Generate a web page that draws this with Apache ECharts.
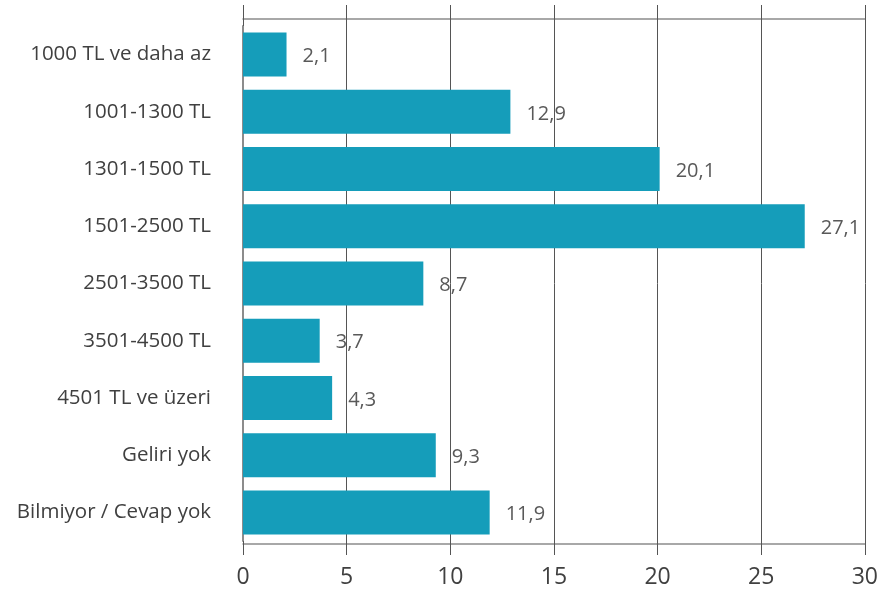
<!DOCTYPE html>
<html>
<head>
<meta charset="utf-8">
<script src="https://cdn.jsdelivr.net/npm/echarts@6/dist/echarts.min.js"></script>
<style>
  html, body { margin: 0; padding: 0; background: #fff; }
  #chart { width: 881px; height: 597px; }
</style>
</head>
<body>
<div id="chart"></div>
<script>
  // gelir grupları (yukarıdan aşağıya)
  const categories = [
    '1000 TL ve daha az',
    '1001-1300 TL',
    '1301-1500 TL',
    '1501-2500 TL',
    '2501-3500 TL',
    '3501-4500 TL',
    '4501 TL ve üzeri',
    'Geliri yok',
    'Bilmiyor / Cevap yok'
  ];
  const values = [2.1, 12.9, 20.1, 27.1, 8.7, 3.7, 4.3, 9.3, 11.9];
  const xTicks = [0, 5, 10, 15, 20, 25, 30];

  const font = '"Open Sans", sans-serif';
  const gridColor = '#555';
  const axisColor = '#8c8c8c';
  const chart = echarts.init(document.getElementById('chart'));

  // ayni olcekte ek eksenler: sadece cizgi/tick icin
  function extraAxis(pos, offset, opts) {
    return Object.assign({
      type: 'value',
      position: pos,
      offset: offset,
      min: xTicks[0],
      max: xTicks[xTicks.length - 1],
      interval: 5,
      axisLine: { show: false },
      axisTick: { show: false },
      axisLabel: { show: false },
      splitLine: { show: false }
    }, opts);
  }

  chart.setOption({
    animation: false,
    grid: { left: 243, right: 14, top: 26, bottom: 56, containLabel: false },
    xAxis: [
      {
        type: 'value',
        position: 'bottom',
        offset: 3,
        min: xTicks[0],
        max: xTicks[xTicks.length - 1],
        interval: 5,
        axisLine: { show: true, lineStyle: { color: axisColor, width: 1.5 } },
        axisTick: { show: true, length: 11, lineStyle: { color: gridColor } },
        axisLabel: { color: '#404040', fontSize: 23, fontFamily: font, margin: 22 },
        splitLine: { show: true, lineStyle: { color: gridColor, width: 1 } }
      },
      extraAxis('bottom', 3, {
        axisTick: { show: true, inside: true, length: 3, lineStyle: { color: gridColor } }
      }),
      extraAxis('top', 7, {
        axisLine: { show: true, lineStyle: { color: axisColor, width: 1.5 } },
        axisTick: { show: true, length: 14, lineStyle: { color: gridColor } }
      }),
      extraAxis('top', 7, {
        axisTick: { show: true, inside: true, length: 7, lineStyle: { color: gridColor } }
      })
    ],
    yAxis: {
      type: 'category',
      inverse: true,
      data: categories,
      axisLine: { show: true, lineStyle: { color: axisColor, width: 2 } },
      axisTick: { show: false },
      axisLabel: { color: '#404040', fontSize: 20.5, fontFamily: font, margin: 32 }
    },
    series: [
      {
        type: 'bar',
        data: values,
        barWidth: 44,
        itemStyle: { color: '#159dba' },
        label: {
          show: true,
          position: 'right',
          distance: 16,
          offset: [0, 2],
          color: '#595959',
          fontSize: 20,
          fontFamily: font,
          formatter: p => String(p.value).replace('.', ',')
        }
      }
    ]
  });
</script>
</body>
</html>
